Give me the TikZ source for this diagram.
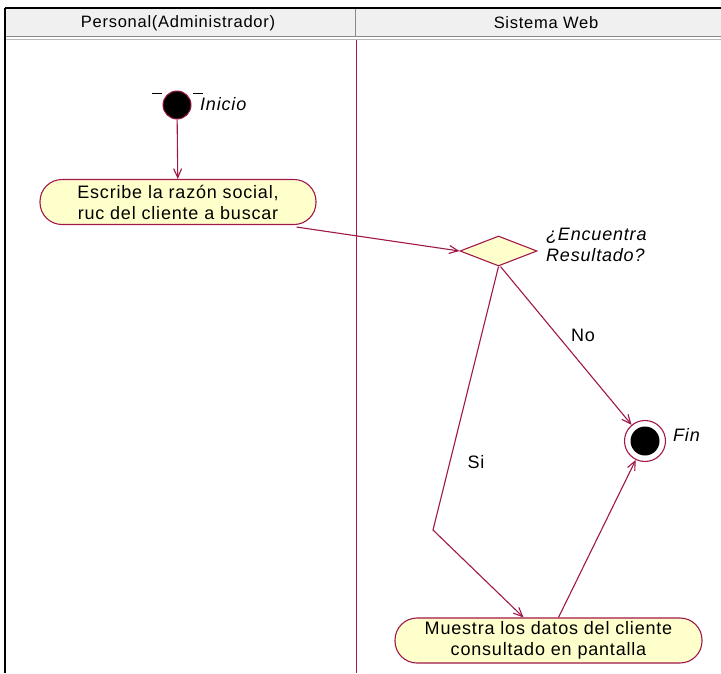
\documentclass[tikz,border=0pt]{standalone}
\usepackage{fontspec}
\setmainfont[LetterSpace=4.5]{Liberation Sans}
\usetikzlibrary{arrows.meta,shapes.geometric,calc}
\definecolor{rosered}{HTML}{A0184A}
\definecolor{actfill}{HTML}{FFFFCC}
\definecolor{headfill}{HTML}{F0F0F0}
\definecolor{headline}{HTML}{8A8A8A}
\begin{document}
\begin{tikzpicture}[x=1pt,y=-1pt,
  flow/.style={draw=rosered,line width=1.1pt,
    -{Straight Barb[length=9pt,width=8pt,line width=1.1pt]}},
  activity/.style={draw=rosered,fill=actfill,line width=1.1pt,
    rounded corners=22pt,minimum width=#1,minimum height=45pt,
    inner sep=0pt,align=center,font=\fontsize{18}{21}\selectfont},
  decision/.style={diamond,draw=rosered,fill=actfill,line width=1.1pt,
    minimum width=77pt,minimum height=30pt,inner sep=0pt},
  italiclabel/.style={font=\fontsize{18}{21}\selectfont\itshape,
    align=left,anchor=west,inner sep=0pt},
  guardlabel/.style={font=\fontsize{18}{21}\selectfont,inner sep=0pt},
  headtext/.style={font=\fontsize{16.5}{19}\selectfont,inner sep=0pt}]
\useasboundingbox (0,0) rectangle (721,673);
\fill[white] (0,0) rectangle (721,673);

% swimlane header
\fill[headfill] (5,8) rectangle (740,37);
\draw[headline,line width=1.5pt] (5,36.5) -- (740,36.5);
\draw[headline!60,line width=1pt] (5,39.5) -- (740,39.5);
\draw[headline,line width=1pt] (355,8) -- (355,37);
\node[headtext] (laneA) at (178,23) {Personal(Administrador)};
\node[headtext] (laneB) at (546,23) {Sistema Web};

% frame and lane divider
\draw[black,line width=1.5pt] (5,8) -- (740,8);
\draw[black,line width=1.5pt] (5,8) -- (5,673);
\draw[rosered,line width=0.9pt] (356,40) -- (356,673);

% start state
\node[circle,fill=black,draw=rosered,line width=1pt,minimum size=28pt,
  inner sep=0pt] (start) at (177,105) {};
\draw[black,line width=1pt] (152,93) -- (162,93);
\draw[black,line width=1pt] (193,93) -- (203,93);
\node[italiclabel] (startlbl) at (200,104) {Inicio};

% activities
\node[activity=276pt] (act1) at (178,202)
  {Escribe la razón social,\\ruc del cliente a buscar};
\node[activity=307pt] (act2) at (548.5,640.5)
  {Muestra los datos del cliente\\consultado en pantalla};

% decision
\node[decision] (dec) at (498.5,251) {};
\node[italiclabel] (declbl) at (546,245) {¿Encuentra\\Resultado?};

% final state
\node[circle,draw=rosered,fill=white,line width=1.1pt,minimum size=41pt,
  inner sep=0pt] (fin) at (645,441) {};
\node[circle,fill=black,minimum size=29pt,inner sep=0pt] (finin) at (fin) {};
\node[italiclabel] (finlbl) at (673,435) {Fin};

% transitions
\draw[flow] (start) -- (act1);
\draw[flow] ([xshift=-20pt,yshift=-2pt]act1.south east) -- (dec.west);
\draw[flow] ([xshift=2pt]dec.south) -- (fin);
\coordinate (sibend) at (433,530);
\draw[flow] (dec.south) -- (sibend) -- ([xshift=-25pt]act2.north);
\draw[flow] ([xshift=10pt]act2.north) -- (fin);

\node[guardlabel] (nolbl) at (583,335) {No};
\node[guardlabel] (silbl) at (476,462) {Si};
\end{tikzpicture}
\end{document}
